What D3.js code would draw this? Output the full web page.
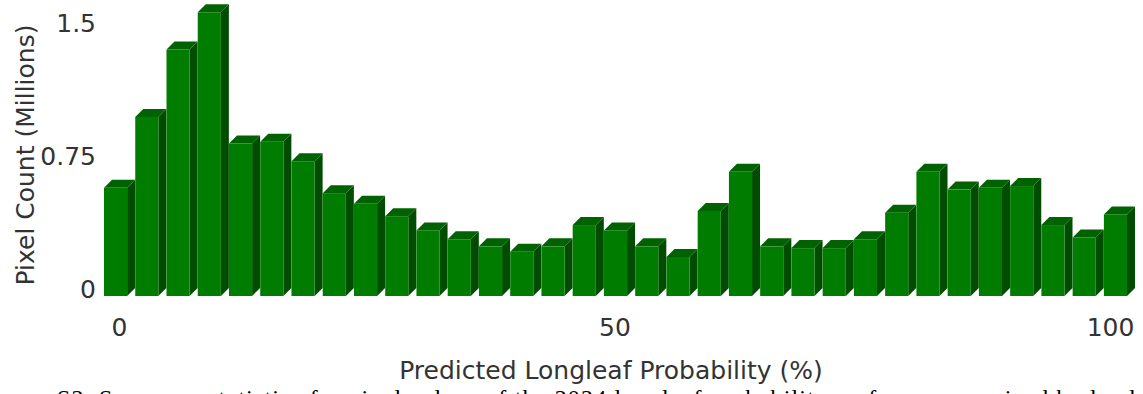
<!DOCTYPE html>
<html>
<head>
<meta charset="utf-8">
<script src="https://cdn.jsdelivr.net/npm/d3@7"></script>
<style>
  body { margin: 0; background: #fff; }
  svg { display: block; }
  text { font-family: "DejaVu Sans", sans-serif; fill: #333; }
</style>
</head>
<body>
<script>
// histogram bins (33 bins over 0-100 %)
const bins = d3.range(33).map(i => "b" + i);
// pixel counts in millions
const counts = [0.61, 1.01, 1.39, 1.60, 0.86, 0.87, 0.76, 0.58, 0.52, 0.45,
                0.37, 0.32, 0.28, 0.25, 0.28, 0.40, 0.37, 0.28, 0.22, 0.48,
                0.70, 0.28, 0.27, 0.27, 0.32, 0.47, 0.70, 0.60, 0.61, 0.62,
                0.40, 0.33, 0.46];
const yTicks = [0, 0.75, 1.5];
const yTickLabels = ["0", "0.75", "1.5"];
const xTicks = [0, 50, 100];
const xTitle = "Predicted Longleaf Probability (%)";
const yTitle = "Pixel Count (Millions)";
const caption = "S2. Summary statistics for pixel values of the 2024 longleaf probability surface summarized by land";

const data = bins.map((b, i) => ({ bin: b, count: counts[i] }));

const width = 1143;
const height = 394;
const depth = 8; // 3d offset of the bars

const svg = d3.select('body')
  .append('svg')
  .attr('width', width)
  .attr('height', height);

// scales
const xBand = d3.scaleBand()
  .domain(bins)
  .range([104, 1127])
  .paddingInner(0.26)
  .paddingOuter(0);

const yScale = d3.scaleLinear()
  .domain([0, 1.5])
  .range([296, 30]);

const xScale = d3.scaleLinear()
  .domain([0, 100])
  .range([119, 1110]);

// bars with a fake 3d look: side, top, then front
const bars = svg.append('g')
  .selectAll('g')
  .data(data)
  .join('g');

bars.append('polygon')
  .attr('points', d => {
    const x1 = xBand(d.bin) + xBand.bandwidth();
    const yt = yScale(d.count), yb = yScale(0);
    return [[x1, yt], [x1 + depth, yt - depth], [x1 + depth, yb - depth], [x1, yb]].join(' ');
  })
  .style('fill', '#004c00');

bars.append('polygon')
  .attr('points', d => {
    const x0 = xBand(d.bin), x1 = x0 + xBand.bandwidth();
    const yt = yScale(d.count);
    return [[x0, yt], [x0 + depth, yt - depth], [x1 + depth, yt - depth], [x1, yt]].join(' ');
  })
  .style('fill', '#006200');

bars.append('rect')
  .attr('x', d => xBand(d.bin))
  .attr('y', d => yScale(d.count))
  .attr('width', xBand.bandwidth())
  .attr('height', d => yScale(0) - yScale(d.count))
  .style('fill', '#007c00');

// Y axis (labels sit on the back plane)
const yAxis = d3.axisLeft(yScale)
  .tickValues(yTicks)
  .tickFormat((d, i) => yTickLabels[i])
  .tickSize(0)
  .tickPadding(0);

svg.append('g')
  .attr('transform', `translate(96,${-depth + 1})`)
  .call(yAxis)
  .call(g => g.select('.domain').remove())
  .selectAll('text')
  .style('font-size', '25px')
  .style('font-family', '"DejaVu Sans", sans-serif')
  .style('fill', '#333');

// X axis
const xAxis = d3.axisBottom(xScale)
  .tickValues(xTicks)
  .tickSize(0)
  .tickPadding(0);

svg.append('g')
  .attr('transform', 'translate(0,317)')
  .call(xAxis)
  .call(g => g.select('.domain').remove())
  .selectAll('text')
  .attr('dy', '0.75em')
  .style('font-size', '25px')
  .style('font-family', '"DejaVu Sans", sans-serif')
  .style('fill', '#333');

// axis titles
svg.append('text')
  .attr('x', 611)
  .attr('y', 379)
  .attr('text-anchor', 'middle')
  .style('font-size', '25px')
  .text(xTitle);

svg.append('text')
  .attr('transform', 'translate(34,155) rotate(-90)')
  .attr('text-anchor', 'middle')
  .style('font-size', '25px')
  .text(yTitle);

// caption, cut off by the bottom edge
svg.append('text')
  .attr('x', 57)
  .attr('y', 406)
  .attr('textLength', 1078)
  .attr('lengthAdjust', 'spacing')
  .style('font-family', '"Liberation Serif", serif')
  .style('font-size', '24px')
  .style('fill', '#000')
  .text(caption);
</script>
</body>
</html>
